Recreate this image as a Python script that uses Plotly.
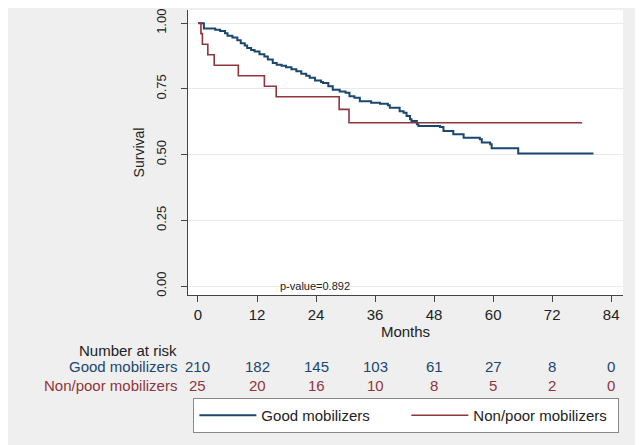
import plotly.graph_objects as go

# Kaplan-Meier estimates (months, survival)
good_t = [0, 1.2, 3.5, 4.5, 5.5, 6.0, 7.0, 8.0, 8.7, 9.5, 10.0, 10.8, 11.5, 12.5, 13.5, 14.2,
          15.2, 16.0, 17.0, 17.9, 19.0, 20.0, 21.0, 22.0, 22.7, 23.8, 25.0, 25.4, 26.5, 27.4,
          28.8, 30.0, 30.8, 31.8, 32.9, 35.2, 37.0, 38.6, 39.0, 41.0, 41.8, 42.4, 43.1, 43.4,
          44.5, 44.8, 49.2, 49.9, 51.9, 54.0, 57.3, 57.7, 59.4, 59.7, 64.8, 65.1, 80.4]
good_s = [1.0, 0.980, 0.975, 0.970, 0.962, 0.952, 0.945, 0.935, 0.924, 0.915, 0.905, 0.898, 0.892, 0.882, 0.873, 0.862,
          0.848, 0.842, 0.838, 0.832, 0.825, 0.817, 0.808, 0.800, 0.792, 0.782, 0.776, 0.772, 0.760, 0.747,
          0.740, 0.735, 0.722, 0.716, 0.703, 0.697, 0.693, 0.688, 0.678, 0.665, 0.659, 0.647, 0.634, 0.628,
          0.615, 0.609, 0.605, 0.590, 0.577, 0.564, 0.558, 0.546, 0.539, 0.524, 0.524, 0.504, 0.504]

poor_t = [0, 0.6, 0.9, 2.0, 3.3, 8.2, 13.5, 15.9, 28.7, 30.7, 78.1]
poor_s = [1.0, 0.96, 0.92, 0.88, 0.84, 0.80, 0.76, 0.72, 0.672, 0.621, 0.621]

risk_times = [0, 12, 24, 36, 48, 60, 72, 84]
risk_good = [210, 182, 145, 103, 61, 27, 8, 0]
risk_poor = [25, 20, 16, 10, 8, 5, 2, 0]

x_ticks = [0, 12, 24, 36, 48, 60, 72, 84]
y_ticks = [0, 0.25, 0.5, 0.75, 1.0]
y_tick_labels = ["0.00", "0.25", "0.50", "0.75", "1.00"]

BLUE = "#1a476f"
RED = "#90353b"
FONT = "Liberation Sans, Arial, sans-serif"

fig = go.Figure()
fig.add_trace(go.Scatter(x=good_t, y=good_s, mode="lines", line_shape="hv",
                         line=dict(color=BLUE, width=2), name="Good mobilizers"))
fig.add_trace(go.Scatter(x=poor_t, y=poor_s, mode="lines", line_shape="hv",
                         line=dict(color=RED, width=1.6), name="Non/poor mobilizers"))

# The page body adds an 8px offset; figure is 635x437 so it fills the 643x445 window.
PLOT_TOP, PLOT_BOTTOM = 10, 295  # screen pixels


def py(pix):
    return (PLOT_BOTTOM - pix) / (PLOT_BOTTOM - PLOT_TOP)


annotations = [
    dict(x=23.8, y=0, xref="x", yref="y", text="p-value=0.892", showarrow=False,
         font=dict(size=11, color="#222222", family=FONT), xanchor="center", yanchor="middle"),
    dict(x=-0.021, y=py(350), xref="paper", yref="paper", text="Number at risk", showarrow=False,
         xanchor="right", yanchor="middle", font=dict(size=15, color="#222222", family=FONT)),
    dict(x=-0.021, y=py(367), xref="paper", yref="paper", text="Good mobilizers", showarrow=False,
         xanchor="right", yanchor="middle", font=dict(size=15, color=BLUE, family=FONT)),
    dict(x=-0.021, y=py(385), xref="paper", yref="paper", text="Non/poor mobilizers", showarrow=False,
         xanchor="right", yanchor="middle", font=dict(size=15, color=RED, family=FONT)),
]
for t, g, p in zip(risk_times, risk_good, risk_poor):
    annotations.append(dict(x=t, y=py(367), xref="x", yref="paper", text=str(g), showarrow=False,
                            xanchor="center", yanchor="middle", font=dict(size=15, color=BLUE, family=FONT)))
    annotations.append(dict(x=t, y=py(385), xref="x", yref="paper", text=str(p), showarrow=False,
                            xanchor="center", yanchor="middle", font=dict(size=15, color=RED, family=FONT)))

fig.update_layout(
    width=635, height=437,
    margin=dict(l=180, r=20, t=2, b=150, autoexpand=False),
    paper_bgcolor="#efefef",
    plot_bgcolor="white",
    font=dict(family=FONT, size=15, color="#222222"),
    showlegend=True,
    legend=dict(orientation="h", x=0.502, xanchor="center", y=py(398), yanchor="top",
                bgcolor="white", bordercolor="#888888", borderwidth=1,
                font=dict(size=15, family=FONT, color="#222222"),
                entrywidth=140, itemwidth=57),
    annotations=annotations,
)
fig.update_xaxes(range=[-2.03, 86.4], tickvals=x_ticks, ticks="outside", ticklen=6,
                 tickcolor="#444444", showline=True, linecolor="#444444", linewidth=1,
                 showgrid=False, zeroline=False, tickfont=dict(size=15), automargin=False,
                 title=dict(text="Months", standoff=0, font=dict(size=15)))
fig.update_yaxes(range=[-0.034, 1.05], tickvals=y_ticks, ticktext=y_tick_labels, tickangle=-90,
                 ticks="outside", ticklen=6, tickcolor="#444444", showline=True, linecolor="#444444",
                 linewidth=1, showgrid=True, gridcolor="#eaeaea", zeroline=False, automargin=False,
                 ticklabelstandoff=10, ticklabeloverflow="allow",
                 tickfont=dict(size=13), title=dict(text="Survival", standoff=5, font=dict(size=14)))

fig.write_html("out.html")
